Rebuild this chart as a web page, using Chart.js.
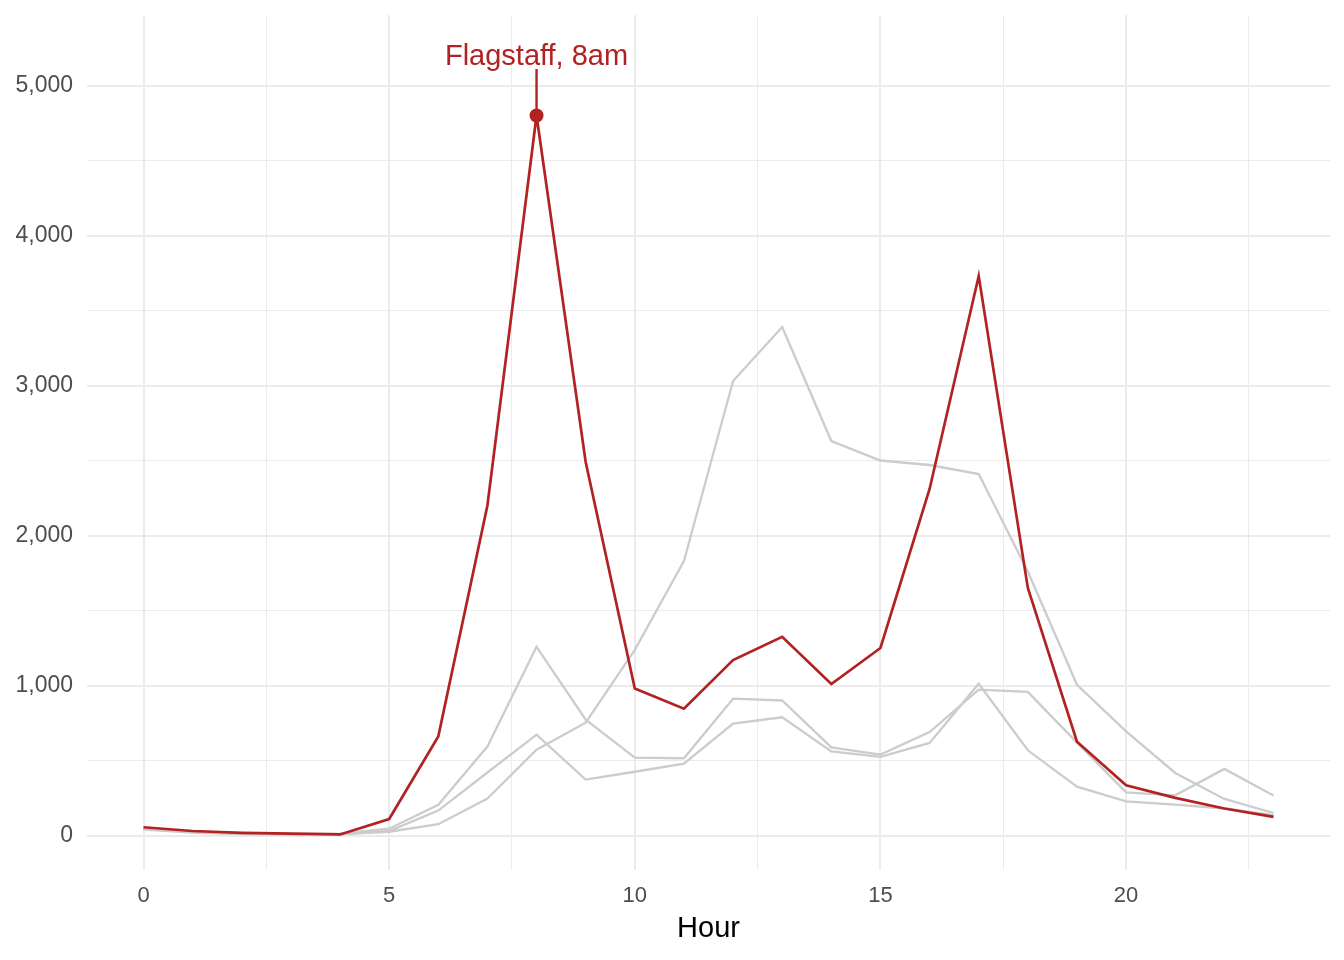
<!DOCTYPE html>
<html>
<head>
  <title>Hourly traffic</title>
  <script src="https://cdn.jsdelivr.net/npm/chart.js"></script>
  <style>
    html, body { margin: 0; padding: 0; background: #fff; }
    #wrap { width: 1344px; height: 960px; }
  </style>
</head>
<body>
  <div id="wrap"><canvas id="hourChart"></canvas></div>

  <script>
    // hours of the day
    const hours = [0, 1, 2, 3, 4, 5, 6, 7, 8, 9, 10, 11, 12, 13, 14, 15, 16, 17, 18, 19, 20, 21, 22, 23];

    // highlighted station
    const flagstaff = [55, 30, 18, 12, 7, 110, 660, 2200, 4800, 2490, 980, 845, 1170, 1325, 1010, 1250, 2310, 3730, 1650, 625, 335, 251, 180, 124];

    // other stations (grey)
    const middayStation = [45, 22, 12, 8, 10, 25, 75, 246, 572, 752, 1238, 1830, 3030, 3390, 2630, 2500, 2470, 2410, 1760, 1005, 694, 417, 244, 150];
    const stationB = [50, 25, 15, 10, 12, 45, 205, 593, 1258, 772, 519, 515, 912, 900, 588, 539, 690, 972, 957, 619, 288, 268, 444, 266];
    const stationC = [40, 20, 10, 8, 8, 30, 166, 420, 672, 373, 425, 479, 746, 788, 561, 524, 617, 1012, 568, 326, 228, 206, 180, 135];

    // labelled ticks and grid lines (major + minor)
    const xTickLabels = [0, 5, 10, 15, 20];
    const xGridValues = [0, 2.5, 5, 7.5, 10, 12.5, 15, 17.5, 20, 22.5];
    const yTickLabels = [0, 1000, 2000, 3000, 4000, 5000];
    const yGridValues = [0, 500, 1000, 1500, 2000, 2500, 3000, 3500, 4000, 4500, 5000];

    // annotation
    const peakHour = 8;
    const peakLabel = 'Flagstaff, 8am';
    const labelValue = 5110;

    const RED = '#B22222';
    const GREY = '#CCCCCC';
    const GRID = '#EBEBEB';
    const FONT = '"Liberation Sans", Arial, sans-serif';

    function toPoints(values) {
      return hours.map((h, i) => ({ x: h, y: values[i] }));
    }

    function greySet(values) {
      return {
        data: toPoints(values),
        borderColor: GREY,
        borderWidth: 2.3,
        pointRadius: 0,
        tension: 0
      };
    }

    // text label above the peak
    const peakLabelPlugin = {
      id: 'peakLabel',
      afterDatasetsDraw(chart) {
        const ctx = chart.ctx;
        const x = chart.scales.x.getPixelForValue(peakHour);
        const y = chart.scales.y.getPixelForValue(labelValue);
        ctx.save();
        ctx.fillStyle = RED;
        ctx.font = '29px ' + FONT;
        ctx.textAlign = 'center';
        ctx.textBaseline = 'bottom';
        ctx.fillText(peakLabel, x, y + 2);
        ctx.restore();
      }
    };

    new Chart(document.getElementById('hourChart'), {
      type: 'line',
      data: {
        datasets: [
          {
            data: [{ x: peakHour, y: flagstaff[peakHour] }, { x: peakHour, y: labelValue }],
            borderColor: RED,
            backgroundColor: RED,
            borderWidth: 2.4,
            pointRadius: [7, 0],
            pointBorderWidth: 0
          },
          {
            data: toPoints(flagstaff),
            borderColor: RED,
            borderWidth: 2.7,
            pointRadius: 0,
            tension: 0
          },
          greySet(middayStation),
          greySet(stationB),
          greySet(stationC)
        ]
      },
      options: {
        responsive: true,
        maintainAspectRatio: false,
        animation: false,
        layout: { padding: { top: 15, right: 14, bottom: 0, left: 0 } },
        plugins: {
          legend: { display: false },
          tooltip: { enabled: false }
        },
        scales: {
          x: {
            type: 'linear',
            min: -1.15,
            max: 24.15,
            border: { display: false },
            grid: {
              color: GRID,
              drawTicks: false,
              lineWidth: (c) => (xTickLabels.includes(c.tick.value) ? 2 : 1)
            },
            afterBuildTicks: (scale) => { scale.ticks = xGridValues.map((v) => ({ value: v })); },
            ticks: {
              autoSkip: false,
              maxRotation: 0,
              padding: 13,
              color: '#4D4D4D',
              font: { family: FONT, size: 22 },
              callback: (v) => (xTickLabels.includes(v) ? String(v) : '')
            },
            title: {
              display: true,
              text: 'Hour',
              color: '#000',
              font: { family: FONT, size: 29 },
              padding: { top: 4, bottom: 14 }
            },
            afterFit: (scale) => {
              scale.height = 90;
              scale.paddingLeft = 0;
              scale.paddingRight = 0;
            }
          },
          y: {
            min: -230,
            max: 5470,
            border: { display: false },
            grid: {
              color: GRID,
              drawTicks: false,
              lineWidth: (c) => (yTickLabels.includes(c.tick.value) ? 2 : 1)
            },
            afterBuildTicks: (scale) => { scale.ticks = yGridValues.map((v) => ({ value: v })); },
            ticks: {
              autoSkip: false,
              padding: 14,
              color: '#4D4D4D',
              font: { family: FONT, size: 23 },
              callback: (v) => (yTickLabels.includes(v) ? v.toLocaleString('en-US') : '')
            },
            afterFit: (scale) => {
              scale.width = 87;
              scale.paddingTop = 0;
              scale.paddingBottom = 0;
            }
          }
        }
      },
      plugins: [peakLabelPlugin]
    });
  </script>
</body>
</html>
